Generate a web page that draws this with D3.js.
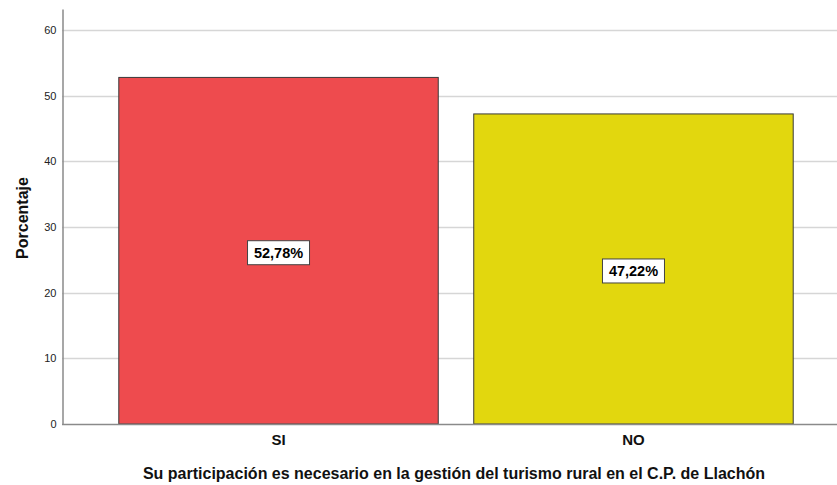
<!DOCTYPE html>
<html>
<head>
<meta charset="utf-8">
<script src="https://cdn.jsdelivr.net/npm/d3@7"></script>
<style>
  body { margin: 0; background: #fff; }
  text { font-family: Arial, "Liberation Sans", sans-serif; }
</style>
</head>
<body>
<script>
let width = 837;
let height = 485;

// data
let categories = ['SI', 'NO'];
let percents = [52.78, 47.22];
let barColors = ['#ee4b4e', '#e2d70e'];
let yTicks = [0, 10, 20, 30, 40, 50, 60];
let valueLabels = ['52,78%', '47,22%'];

let x0 = 62, x1 = 850, yBottom = 424, yTop = 9;

let svg = d3.select('body')
  .append('svg')
  .attr('width', width)
  .attr('height', height);

let x = d3.scaleBand()
  .domain(categories)
  .range([x0, x1])
  .paddingInner(0.1)
  .paddingOuter(0.16);

let y = d3.scaleLinear()
  .domain([0, 63.2])
  .range([yBottom, yTop]);

// gridlines
svg.append('g')
  .selectAll('line')
  .data(yTicks.filter(d => d > 0))
  .enter().append('line')
  .attr('x1', x0)
  .attr('x2', width)
  .attr('y1', d => Math.round(y(d)) + 0.5)
  .attr('y2', d => Math.round(y(d)) + 0.5)
  .attr('stroke', '#d6d6d6')
  .attr('stroke-width', 1.5);

// y axis
let yAxis = svg.append('g')
  .attr('transform', 'translate(' + (x0 + 0.5) + ',0)')
  .call(d3.axisLeft(y).tickValues(yTicks).tickSize(0).tickPadding(6));
yAxis.select('.domain').attr('stroke', '#8a8a8a').attr('stroke-width', 1.5);
yAxis.selectAll('text').attr('font-size', 11).attr('fill', '#222')
  .attr('font-family', 'Arial, "Liberation Sans", sans-serif');

// bars
svg.append('g')
  .selectAll('rect')
  .data(categories)
  .enter().append('rect')
  .attr('x', d => x(d))
  .attr('y', (d, i) => y(percents[i]))
  .attr('width', x.bandwidth())
  .attr('height', (d, i) => yBottom - y(percents[i]))
  .attr('fill', (d, i) => barColors[i])
  .attr('stroke', '#3a3a3a')
  .attr('stroke-width', 1);

// x axis line
svg.append('line')
  .attr('x1', x0)
  .attr('x2', width)
  .attr('y1', yBottom + 0.5)
  .attr('y2', yBottom + 0.5)
  .attr('stroke', '#8a8a8a')
  .attr('stroke-width', 1.5);

// category labels
svg.append('g')
  .selectAll('text')
  .data(categories)
  .enter().append('text')
  .attr('x', d => x(d) + x.bandwidth() / 2)
  .attr('y', 445)
  .attr('text-anchor', 'middle')
  .attr('font-size', 15)
  .attr('font-weight', 'bold')
  .attr('fill', '#111')
  .text(d => d);

// value labels with boxes
let lab = svg.append('g')
  .selectAll('g')
  .data(categories)
  .enter().append('g')
  .attr('transform', (d, i) => 'translate(' + (x(d) + x.bandwidth() / 2) + ',' + ((y(percents[i]) + yBottom) / 2 + 2) + ')');

lab.append('rect')
  .attr('x', -31)
  .attr('y', -12)
  .attr('width', 62)
  .attr('height', 24)
  .attr('fill', '#fff')
  .attr('stroke', '#444')
  .attr('stroke-width', 1);

lab.append('text')
  .attr('text-anchor', 'middle')
  .attr('dy', '0.36em')
  .attr('font-size', 14.5)
  .attr('font-weight', 'bold')
  .attr('fill', '#000')
  .text((d, i) => valueLabels[i]);

// axis titles
svg.append('text')
  .attr('transform', 'translate(28,218) rotate(-90)')
  .attr('text-anchor', 'middle')
  .attr('font-size', 16)
  .attr('font-weight', 'bold')
  .attr('fill', '#111')
  .text('Porcentaje');

svg.append('text')
  .attr('x', 454)
  .attr('y', 479)
  .attr('text-anchor', 'middle')
  .attr('font-size', 16)
  .attr('font-weight', 'bold')
  .attr('fill', '#111')
  .text('Su participación es necesario en la gestión del turismo rural en el C.P. de Llachón');
</script>
</body>
</html>
